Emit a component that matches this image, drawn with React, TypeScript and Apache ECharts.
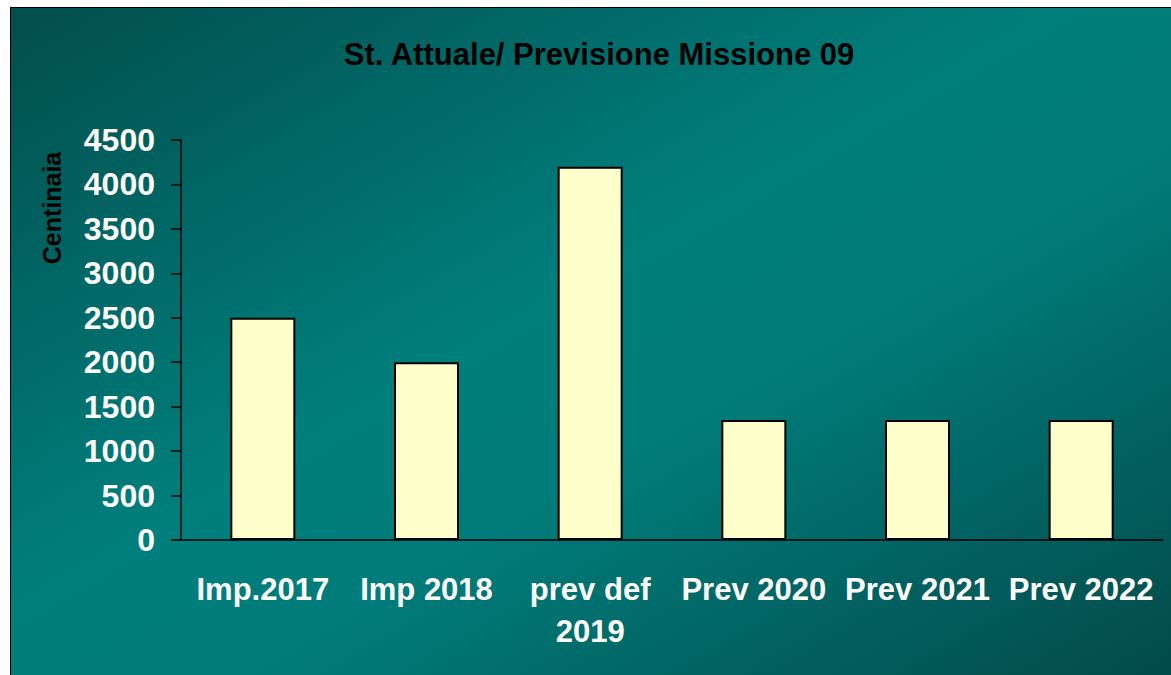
import React, { useEffect, useRef } from "react";
import * as echarts from "echarts";

const categories = ["Imp.2017", "Imp 2018", "prev def\n2019", "Prev 2020", "Prev 2021", "Prev 2022"];
const values = [2500, 2000, 4200, 1350, 1350, 1350];
const titleText = "St. Attuale/ Previsione Missione 09";
const yAxisTitle = "Centinaia";

const FONT = "'Liberation Sans', Arial, sans-serif";

export default function App() {
  const ref = useRef<HTMLDivElement>(null);
  useEffect(() => {
    if (!ref.current) return;
    const chart = echarts.init(ref.current, undefined, { renderer: "svg" });
    chart.setOption({
      animation: false,
      backgroundColor: new echarts.graphic.LinearGradient(0, 0, 1, 1, [
        { offset: 0, color: "#024e4c" },
        { offset: 0.45, color: "#007f7d" },
        { offset: 0.6, color: "#007c7a" },
        { offset: 1, color: "#034a4a" },
      ]),
      title: {
        text: titleText,
        left: 583,
        textAlign: "center",
        top: 26,
        textStyle: { fontFamily: FONT, fontWeight: "bold", fontSize: 31, color: "#000" },
      },
      graphic: [
        {
          type: "text",
          x: 41,
          y: 200,
          rotation: Math.PI / 2,
          style: {
            text: yAxisTitle,
            fontFamily: FONT,
            fontWeight: "bold",
            fontSize: 25,
            fill: "#000",
            align: "center",
            verticalAlign: "middle",
          },
        },
      ],
      grid: { left: 170, top: 132, width: 982, height: 400, containLabel: false },
      xAxis: {
        type: "category",
        data: categories,
        axisLine: { lineStyle: { color: "#000", width: 1.5 } },
        axisTick: { length: 10, lineStyle: { color: "#000", width: 1.5 } },
        axisLabel: {
          interval: 0,
          margin: 28,
          color: "#fff",
          fontFamily: FONT,
          fontWeight: "bold",
          fontSize: 31,
          lineHeight: 42,
        },
      },
      yAxis: {
        type: "value",
        min: 0,
        max: 4500,
        interval: 500,
        splitLine: { show: false },
        axisLine: { show: true, lineStyle: { color: "#000", width: 1.5 } },
        axisTick: { show: true, length: 10, lineStyle: { color: "#000", width: 1.5 } },
        axisLabel: {
          margin: 26,
          color: "#fff",
          fontFamily: FONT,
          fontWeight: "bold",
          fontSize: 32,
          formatter: (v: number) => String(v),
        },
      },
      series: [
        {
          type: "bar",
          data: values,
          barWidth: 65,
          itemStyle: { color: "#ffffcc", borderColor: "#000", borderWidth: 2 },
        },
      ],
    });
    return () => chart.dispose();
  }, []);
  return (
    <div style={{ position: "absolute", left: 0, top: 0, width: 1171, height: 675, background: "#fff" }}>
      <div style={{ position: "absolute", left: 10, top: 7, width: 1161, height: 668, background: "#000" }}>
        <div ref={ref} style={{ position: "absolute", left: 1, top: 1, width: 1160, height: 667 }} />
      </div>
    </div>
  );
}
